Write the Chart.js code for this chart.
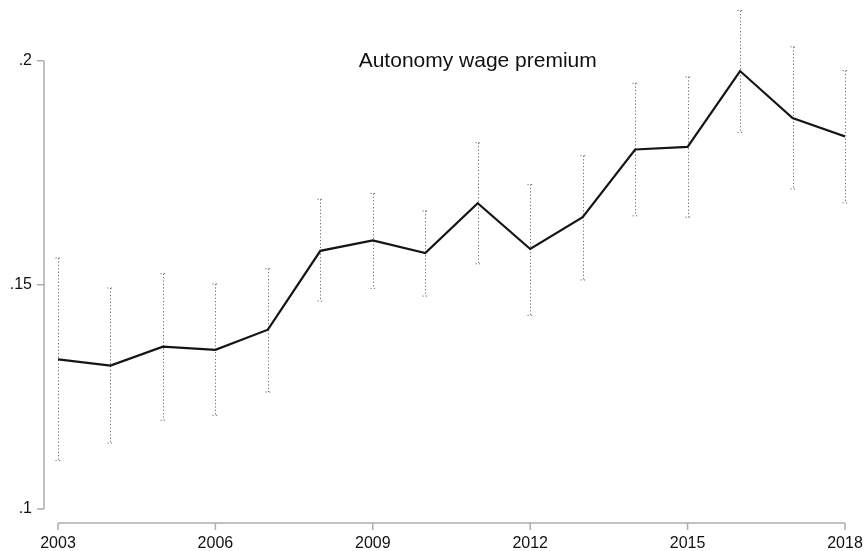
<!DOCTYPE html>
<html>
<head>
<meta charset="utf-8">
<script src="https://cdn.jsdelivr.net/npm/chart.js@4.4.1/dist/chart.umd.min.js"></script>
<style>
  html, body { margin: 0; padding: 0; background: #fff; }
  #wrap { width: 867px; height: 551px; position: relative; }
</style>
</head>
<body>
<div id="wrap"><canvas id="premiumChart"></canvas></div>
<script>
// yearly estimates with 95% confidence bounds
const years = [2003, 2004, 2005, 2006, 2007, 2008, 2009, 2010, 2011, 2012, 2013, 2014, 2015, 2016, 2017, 2018];
const premium = [0.1334, 0.1320, 0.1362, 0.1355, 0.1400, 0.1576, 0.1599, 0.1571, 0.1682, 0.1580, 0.1651, 0.1802, 0.1808, 0.1977, 0.1872, 0.1831];
const ciHigh = [0.1560, 0.1493, 0.1525, 0.1502, 0.1536, 0.1691, 0.1704, 0.1665, 0.1817, 0.1724, 0.1788, 0.1950, 0.1964, 0.2112, 0.2031, 0.1978];
const ciLow = [0.1108, 0.1147, 0.1198, 0.1209, 0.1261, 0.1464, 0.1492, 0.1475, 0.1547, 0.1432, 0.1511, 0.1654, 0.1651, 0.1840, 0.1714, 0.1683];

const xTicks = [2003, 2006, 2009, 2012, 2015, 2018];
const yTicks = [0.1, 0.15, 0.2];
const yTickLabels = ['.1', '.15', '.2'];
const chartTitle = 'Autonomy wage premium';

const FONT = '"Liberation Sans", Arial, Helvetica, sans-serif';
const AXIS_GREY = '#adadad';
const AXIS_GAP = 14;   // stata-style gap between plot region and axis lines
const TICK_LEN = 7;

// dotted confidence bars with little caps
const ciBars = {
    id: 'ciBars',
    beforeDatasetsDraw(chart) {
        const { ctx, scales: { x, y } } = chart;
        ctx.save();
        ctx.strokeStyle = '#6e6e6e';
        ctx.lineWidth = 1;
        ctx.setLineDash([1.2, 2.2]);
        years.forEach((yr, i) => {
            const px = Math.round(x.getPixelForValue(yr)) + 0.5;
            const top = y.getPixelForValue(ciHigh[i]);
            const bot = y.getPixelForValue(ciLow[i]);
            ctx.beginPath();
            ctx.moveTo(px, top);
            ctx.lineTo(px, bot);
            ctx.stroke();
            ctx.beginPath();
            ctx.moveTo(px - 3, top);
            ctx.lineTo(px + 3.5, top);
            ctx.moveTo(px - 3, bot);
            ctx.lineTo(px + 3.5, bot);
            ctx.stroke();
        });
        ctx.restore();
    }
};

// axis lines only span the labelled range, pulled away from the plot
const stataAxes = {
    id: 'stataAxes',
    afterDraw(chart) {
        const { ctx, chartArea, scales: { x, y } } = chart;
        ctx.save();
        ctx.strokeStyle = AXIS_GREY;
        ctx.lineWidth = 1.5;

        const ax = chartArea.left - AXIS_GAP;
        const yTop = y.getPixelForValue(yTicks[yTicks.length - 1]);
        const yBot = y.getPixelForValue(yTicks[0]);
        ctx.beginPath();
        ctx.moveTo(ax, yTop);
        ctx.lineTo(ax, yBot);
        yTicks.forEach(v => {
            const py = y.getPixelForValue(v);
            ctx.moveTo(ax, py);
            ctx.lineTo(ax - TICK_LEN, py);
        });
        ctx.stroke();

        const ay = chartArea.bottom + AXIS_GAP;
        const xl = x.getPixelForValue(xTicks[0]);
        const xr = x.getPixelForValue(xTicks[xTicks.length - 1]);
        ctx.beginPath();
        ctx.moveTo(xl, ay);
        ctx.lineTo(xr, ay);
        xTicks.forEach(v => {
            const px = x.getPixelForValue(v);
            ctx.moveTo(px, ay);
            ctx.lineTo(px, ay + TICK_LEN);
        });
        ctx.stroke();

        // title sits inside the plot region
        ctx.fillStyle = '#111';
        ctx.font = '21px ' + FONT;
        ctx.textAlign = 'center';
        ctx.textBaseline = 'middle';
        ctx.fillText(chartTitle, x.getPixelForValue(2011), y.getPixelForValue(0.2));
        ctx.restore();
    }
};

// keep chart.js from reserving room for half-labels at the ends
const noPadding = scale => {
    scale.paddingTop = 0;
    scale.paddingBottom = 0;
    scale.paddingLeft = 0;
    scale.paddingRight = 0;
};

const ctx = document.getElementById('premiumChart');

new Chart(ctx, {
    type: 'line',
    data: {
        datasets: [{
            label: 'premium',
            data: years.map((yr, i) => ({ x: yr, y: premium[i] })),
            borderColor: '#151515',
            borderWidth: 2.2,
            pointRadius: 0,
            tension: 0,
            fill: false
        }]
    },
    options: {
        responsive: true,
        maintainAspectRatio: false,
        animation: false,
        layout: { padding: { top: 0, right: 22, bottom: 0, left: 0 } },
        plugins: {
            legend: { display: false },
            tooltip: { enabled: false }
        },
        scales: {
            x: {
                type: 'linear',
                min: 2003,
                max: 2018,
                afterBuildTicks: scale => { scale.ticks = xTicks.map(v => ({ value: v })); },
                afterFit: scale => { scale.height = 42; noPadding(scale); },
                grid: { display: false, drawTicks: false },
                border: { display: false },
                ticks: {
                    color: '#111',
                    font: { family: FONT, size: 16 },
                    padding: 25,
                    maxRotation: 0,
                    autoSkip: false,
                    callback: v => String(v)
                }
            },
            y: {
                min: 0.1,
                max: 0.21355,
                afterBuildTicks: scale => { scale.ticks = yTicks.map(v => ({ value: v })); },
                afterFit: scale => { scale.width = 58; noPadding(scale); },
                grid: { display: false, drawTicks: false },
                border: { display: false },
                ticks: {
                    color: '#111',
                    font: { family: FONT, size: 16 },
                    padding: 26,
                    autoSkip: false,
                    callback: v => yTickLabels[yTicks.findIndex(t => Math.abs(t - v) < 1e-9)]
                }
            }
        }
    },
    plugins: [ciBars, stataAxes]
});
</script>
</body>
</html>
